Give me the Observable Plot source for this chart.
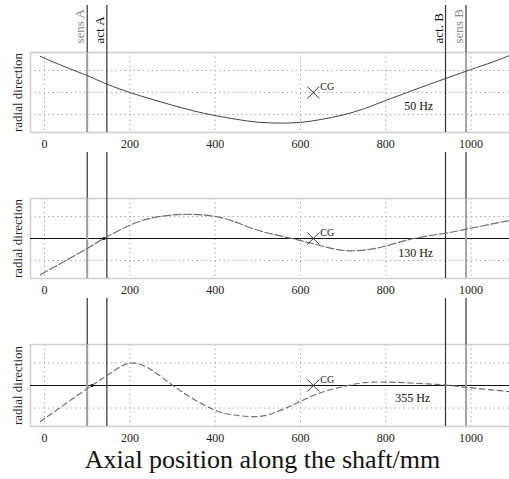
<!DOCTYPE html>
<html><head><meta charset="utf-8">
<script src="https://cdn.jsdelivr.net/npm/d3@7"></script>
<script src="https://cdn.jsdelivr.net/npm/@observablehq/plot@0.6"></script>
<style>
body{margin:0;background:#fff;width:509px;overflow:hidden}
svg{display:block}
#title{font-family:"Liberation Serif",serif;font-size:26px;line-height:26px;text-align:center;padding-left:16px;color:#111;white-space:nowrap}
</style>
</head><body><div id="chart"></div><div id="title">Axial position along the shaft/mm</div>
<script>
// axial positions (mm) and radial deflections (grid units)
const x50 = [-10, 50, 100, 146, 200, 250, 300, 350, 400, 450, 500, 550, 600, 650, 700, 750, 800, 850, 900, 950, 1000, 1050, 1090];
const y50 = [1.64, 1.15, 0.77, 0.38, 0.0, -0.3, -0.58, -0.84, -1.05, -1.22, -1.35, -1.39, -1.36, -1.22, -1.02, -0.73, -0.36, 0.0, 0.36, 0.7, 1.05, 1.38, 1.68];
const x130 = [-10, 50, 100, 139, 200, 250, 300, 340, 390, 440, 490, 530, 580, 630, 680, 720, 760, 800, 866, 940, 990, 1090];
const y130 = [-1.65, -1.0, -0.45, 0.0, 0.6, 0.93, 1.07, 1.1, 1.03, 0.8, 0.44, 0.22, 0.0, -0.24, -0.48, -0.56, -0.5, -0.34, 0.0, 0.24, 0.43, 0.82];
const x355 = [-10, 50, 111, 155, 201, 250, 295, 342, 400, 440, 483, 520, 561, 600, 650, 700, 750, 800, 850, 900, 940, 990, 1040, 1090];
const y355 = [-1.6, -0.8, 0.0, 0.55, 0.99, 0.7, 0.08, -0.52, -1.1, -1.3, -1.38, -1.32, -1.04, -0.7, -0.3, -0.05, 0.13, 0.15, 0.12, 0.07, 0.02, -0.08, -0.18, -0.27];

const sensNames = ["sens A", "sens B"];
const sensPos = [100, 988];
const actNames = ["act A", "act. B"];
const actPos = [146, 940];
const cgPos = 630;
const xTicks = [0, 200, 400, 600, 800, 1000];
const yGrid = [-1, 0, 1];
const xDomain = [-33, 1090];
const yDomain = [-1.818, 1.818];
const freqLabels = ["50 Hz", "130 Hz", "355 Hz"];
const freqX = [877, 870, 863];
const freqY = [-0.6, -0.67, -0.56];
const crossX = [null, 139, 111];

const serif = '"Liberation Serif", serif';
const allPos = sensPos.concat(actPos);

function panel(i, xs, ys, opts) {
  const {height, mt, mb, dash, stroke, zero, top, bottomSeg} = opts;
  const data = xs.map((x, k) => ({x, y: ys[k]}));
  const fh = height - mt - mb;
  const marks = [
    Plot.ruleX(xTicks, {stroke: "#aaa", strokeDasharray: "1.5,3"}),
    Plot.ruleY(zero ? [-1, 1] : yGrid, {stroke: "#aaa", strokeDasharray: "1.5,3"}),
    Plot.ruleY(yDomain, {stroke: "#cfcfcf", strokeWidth: 1.5}),
    Plot.ruleX([xDomain[0]], {stroke: "#cfcfcf", strokeWidth: 1.5}),
  ];
  if (zero) marks.push(Plot.ruleY([0], {stroke: "#111", strokeWidth: 1.2}));
  marks.push(
    Plot.ruleX(allPos, {stroke: "#333", strokeWidth: 1.2, insetTop: -(top ? mt - 5 : mt)}),
    Plot.ruleX(sensPos, {stroke: "#b5b5b5", strokeWidth: 2}),
    Plot.ruleX(sensPos, {stroke: "#777", strokeWidth: 0.5})
  );
  if (bottomSeg) marks.push(Plot.ruleX(allPos, {stroke: "#333", strokeWidth: 1.2, insetTop: fh + 20, insetBottom: -mb}));
  marks.push(
    Plot.line(data, {x: "x", y: "y", curve: "natural", stroke, strokeWidth: dash ? 1.2 : 1, strokeDasharray: dash}),
    Plot.dot([{x: cgPos, y: 0}], {x: "x", y: "y", symbol: "times", r: 5.5, stroke: "#333", strokeWidth: 1}),
    Plot.text([{x: cgPos, y: 0}], {x: "x", y: "y", text: () => "CG", dx: 7, dy: -6, textAnchor: "start", fontSize: 10, fill: "#222"}),
    Plot.text([{x: freqX[i], y: freqY[i], t: freqLabels[i]}], {x: "x", y: "y", text: "t", fontSize: 12, fill: "#111"}),
    Plot.text(["radial direction"], {frameAnchor: "left", rotate: -90, dx: -13, fontSize: 13, fill: "#222", textAnchor: "middle", lineAnchor: "middle"})
  );
  if (crossX[i] != null) marks.push(Plot.dot([{x: crossX[i], y: 0}], {x: "x", y: "y", r: 1.6, fill: "#111"}));
  if (top) {
    marks.push(
      Plot.text(sensPos, {x: d => d, text: (d, k) => sensNames[k], frameAnchor: "top", rotate: -90, textAnchor: "start", lineAnchor: "middle", dx: -7, dy: -9, fontSize: 13, fill: "#888"}),
      Plot.text(actPos, {x: d => d, text: (d, k) => actNames[k], frameAnchor: "top", rotate: -90, textAnchor: "start", lineAnchor: "middle", dx: -7, dy: -9, fontSize: 13, fill: "#111"})
    );
  }
  return Plot.plot({
    width: 509, height,
    marginLeft: 30, marginRight: 0, marginTop: mt, marginBottom: mb,
    style: {fontFamily: serif, fontSize: "12px", color: "#222", background: "#fff"},
    x: {domain: xDomain, ticks: xTicks, tickSize: 0, tickPadding: 7, label: null, tickFormat: d => String(d)},
    y: {domain: yDomain, axis: null},
    marks
  });
}

const root = document.getElementById("chart");
root.append(panel(0, x50, y50, {height: 160, mt: 52, mb: 28, dash: null, stroke: "#444", zero: false, top: true, bottomSeg: true}));
root.append(panel(1, x130, y130, {height: 150, mt: 38, mb: 32, dash: "8,2.5", stroke: "#707070", zero: true, top: false, bottomSeg: true}));
root.append(panel(2, x355, y355, {height: 137, mt: 34, mb: 21, dash: "5.5,3.5", stroke: "#707070", zero: true, top: false, bottomSeg: false}));
</script>
</body></html>
